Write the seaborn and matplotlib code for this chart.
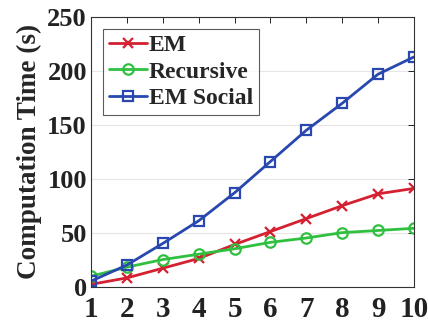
import numpy as np
import pandas as pd
import matplotlib
matplotlib.use("Agg")
import matplotlib.pyplot as plt
import seaborn as sns

# data
steps = [1, 2, 3, 4, 5, 6, 7, 8, 9, 10]
em = [2, 8, 17, 26, 39, 51, 63, 75, 86, 91]
recursive = [9.5, 18, 25, 30, 35, 41, 45, 50, 52, 54]
em_social = [5, 20, 40, 61, 87, 116, 145, 170, 197, 213]

series_names = ["EM", "Recursive", "EM Social"]
colors = ["#d42030", "#30c040", "#2848b0"]
markers = ["x", "o", "s"]

sns.set_style("white")
plt.rcParams['font.family'] = ['Liberation Serif', 'DejaVu Serif']
plt.rcParams['font.weight'] = 'bold'

fig = plt.figure(figsize=(4.28, 3.23), dpi=100)
ax = fig.add_axes([0.213, 0.113, 0.754, 0.834])

for name, vals, c, m in zip(series_names, [em, recursive, em_social], colors, markers):
    df = pd.DataFrame({"x": steps, "y": vals})
    sns.lineplot(data=df, x="x", y="y", ax=ax, color=c, marker=m, label=name,
                 linewidth=2, markersize=7.5, markerfacecolor="none",
                 markeredgecolor=c, markeredgewidth=1.6)

ax.set_xlim(1, 10)
ax.set_ylim(0, 250)
ax.set_xticks(steps)
ax.set_yticks([0, 50, 100, 150, 200, 250])
ax.set_xlabel("")
ax.set_ylabel("Computation Time (s)", fontsize=19.5, fontweight="bold", labelpad=4)
ax.yaxis.grid(True, color="#e6e6e6", linewidth=0.8)
ax.set_axisbelow(True)
ax.tick_params(axis="both", direction="in", length=4, width=0.7,
               top=True, right=True, colors="#222222", labelcolor="#222222")
ax.tick_params(axis="x", labelsize=21, pad=7)
ax.tick_params(axis="y", labelsize=19, pad=3)
for lab in ax.get_xticklabels() + ax.get_yticklabels():
    lab.set_fontweight("bold")
for s in ax.spines.values():
    s.set_color("#333333")
    s.set_linewidth(0.8)

leg = ax.legend(loc="upper left", prop={"size": 17, "weight": "bold"},
                frameon=True, fancybox=False, handlelength=1.6, handletextpad=0.1,
                labelspacing=0.2, borderpad=0.25, borderaxespad=0.5)
leg.get_frame().set_edgecolor("#333333")
leg.get_frame().set_linewidth(0.8)

fig.savefig("out.png", dpi=100)
